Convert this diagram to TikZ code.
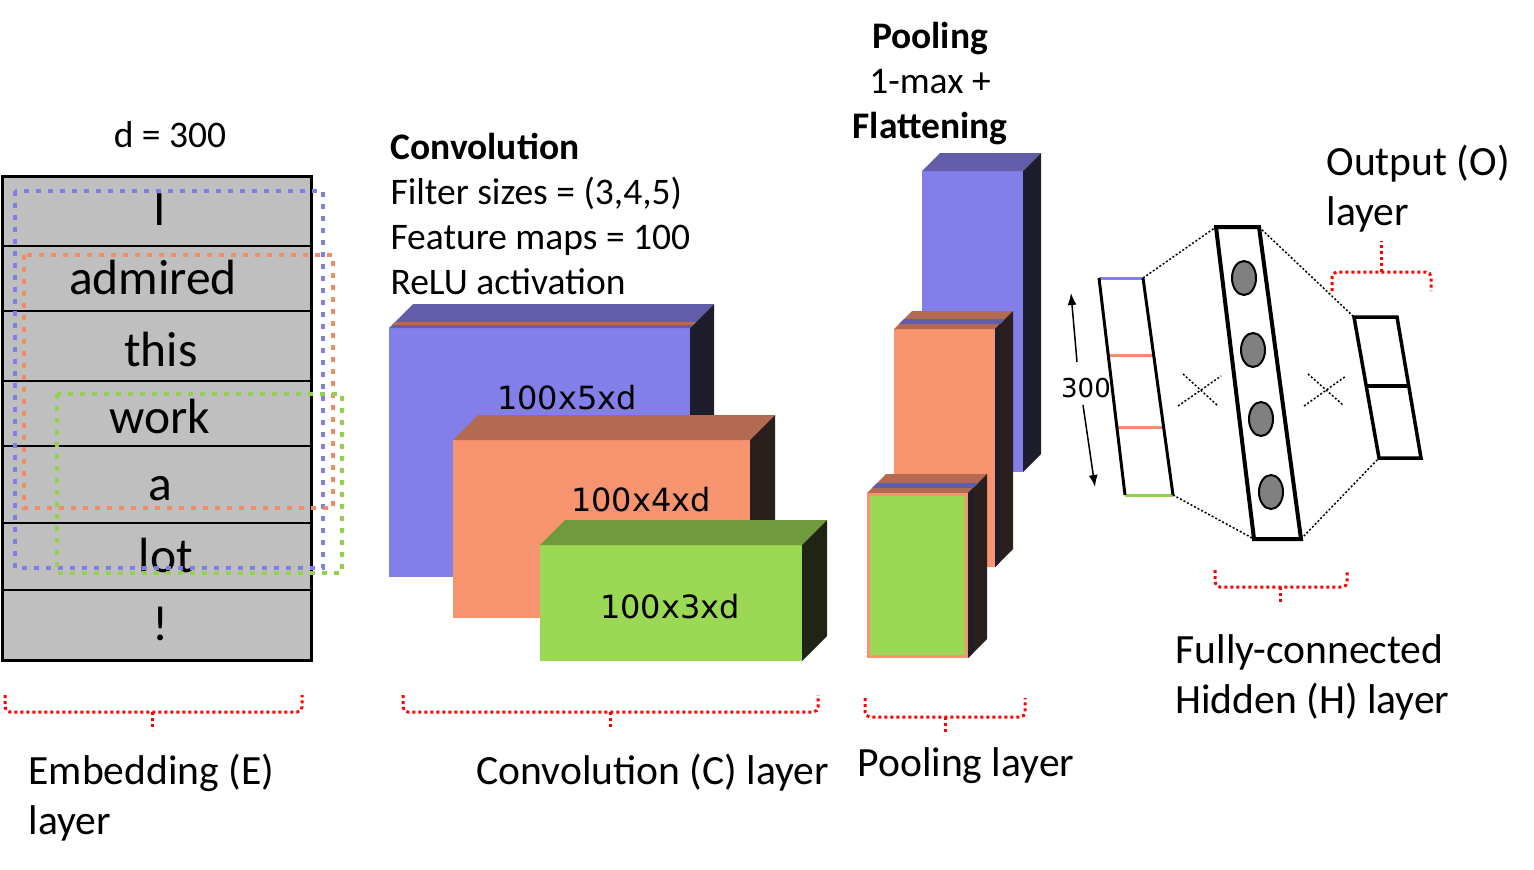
\documentclass[tikz,border=0pt]{standalone}
\usepackage{fontspec}
\setmainfont{Carlito}
\newfontfamily\dejavu{DejaVu Sans}
\usetikzlibrary{arrows.meta,calc}
\definecolor{cblue}{HTML}{837FE8}
\definecolor{cbluetop}{HTML}{615DA8}
\definecolor{cblueside}{HTML}{1E1D2B}
\definecolor{corange}{HTML}{F79470}
\definecolor{corangetop}{HTML}{B46A50}
\definecolor{corangeside}{HTML}{2A1F1C}
\definecolor{cgreen}{HTML}{9BD955}
\definecolor{cgreentop}{HTML}{6F9B3D}
\definecolor{cgreenside}{HTML}{1F2415}
\definecolor{dblue}{HTML}{7F7FE6}
\definecolor{dorange}{HTML}{F08C68}
\definecolor{dgreen}{HTML}{92D050}
\definecolor{cgray}{HTML}{BFBFBF}
\definecolor{cball}{HTML}{808080}
\newcommand\drawcuboid[8]{%
 \fill[#6] (#1,#2) rectangle (#3,#4);
 \fill[#7] (#1,#2) -- ({#1+#5},{#2-#5}) -- ({#3+#5},{#2-#5}) -- (#3,#2) -- cycle;
 \fill[#8] (#3,#2) -- ({#3+#5},{#2-#5}) -- ({#3+#5},{#4-#5}) -- (#3,#4) -- cycle;}
% band on top face between offsets a and b
\newcommand\topband[6]{%
 \fill[#6] ({#1+#4},{#2-#4}) -- ({#3+#4},{#2-#4}) -- ({#3+#5},{#2-#5}) -- ({#1+#5},{#2-#5}) -- cycle;}
\begin{document}
\begin{tikzpicture}[x=1pt,y=-1pt,
  lab/.style={font=\fontsize{41.6}{50}\selectfont},
  info/.style={font=\fontsize{37.5}{45}\selectfont},
  infob/.style={font=\fontsize{37.5}{45}\selectfont\bfseries},
  word/.style={font=\fontsize{49.5}{58}\selectfont, anchor=base},
  dim/.style={font=\dejavu\fontsize{32}{38}\selectfont, anchor=base},
  rowline/.style={line width=2.5pt},
  window/.style={line width=4.5pt, dash pattern=on 5pt off 7pt},
  brace/.style={red, line width=3pt, dash pattern=on 3pt off 3pt, rounded corners=5pt},
  vec/.style={line width=3pt},
  conn/.style={line width=1.5pt, dash pattern=on 2pt off 2pt}
]
\useasboundingbox (0,0) rectangle (1534,870);

% ---------- Embedding layer ----------
\fill[cgray] (2,176) rectangle (311,660);
\foreach \yy in {246,311,381,446,523,590} \draw[rowline] (2,\yy) -- (311,\yy);
\draw[line width=3pt] (2,176) rectangle (311,660);
\node[word] (w1) at (160,225) {I};
\node[word] (w2) at (153,294) {admired};
\node[word] (w3) at (161,366) {this};
\node[word] (w4) at (160,433) {work};
\node[word] (w5) at (160,500) {a};
\node[word] (w6) at (166,572) {lot};
\node[word] (w7) at (161,640) {!};
\node[info, anchor=base] (dlab) at (170,147) {d = 300};

\draw[window, dblue] (15,191) rectangle (323,568);
\draw[window, dorange] (24,255) rectangle (333,508);
\draw[window, dgreen] (57,394) rectangle (342,573);

% ---------- Convolution layer ----------
\drawcuboid{389}{328}{690}{577}{24}{cblue}{cbluetop}{cblueside}
\topband{389}{328}{690}{3}{6}{corangetop}
\drawcuboid{453}{440}{750}{618}{25}{corange}{corangetop}{corangeside}
\drawcuboid{540}{545}{802}{661}{25}{cgreen}{cgreentop}{cgreenside}
\node[dim] (c5) at (567,409) {100x5xd};
\node[dim] (c4) at (641,511) {100x4xd};
\node[dim] (c3) at (670,618) {100x3xd};

\node[infob, anchor=base west] (ct1) at (387,159) {Convolution};
\node[info, anchor=base west] (ct2) at (387,204) {Filter sizes = (3,4,5)};
\node[info, anchor=base west] (ct3) at (387,249) {Feature maps = 100};
\node[info, anchor=base west] (ct4) at (387,294) {ReLU activation};

% ---------- Pooling layer ----------
\drawcuboid{922}{171}{1023}{472}{18}{cblue}{cbluetop}{cblueside}
\drawcuboid{894}{329}{995}{567}{18}{corange}{corangetop}{corangeside}
\topband{894}{329}{995}{5}{10}{cbluetop}
\fill[cblueside] (995,329) -- (1000,324) -- (1000,562) -- (995,567) -- cycle;
\drawcuboid{867}{493}{968}{658}{19}{cgreen}{corangetop}{corangeside}
\topband{867}{493}{968}{5}{10}{cbluetop}
\fill[cblueside] (968,493) -- (973,488) -- (973,653) -- (968,658) -- cycle;
\draw[corange, line width=3pt] (868.5,494.5) rectangle (966.5,656.5);

\node[infob, anchor=base] (pt1) at (930,48) {Pooling};
\node[info, anchor=base] (pt2) at (930,93) {1-max +};
\node[infob, anchor=base] (pt3) at (930,138) {Flattening};

% ---------- Fully connected ----------
\coordinate (v1) at (1099,278);
\coordinate (v2) at (1143,278);
\coordinate (v3) at (1173,495);
\coordinate (v4) at (1125,495);
\coordinate (h1) at (1216,227);
\coordinate (h2) at (1259,227);
\coordinate (h3) at (1301,539);
\coordinate (h4) at (1254,539);
\coordinate (o1) at (1354,317);
\coordinate (o2) at (1397,317);
\coordinate (o3) at (1421,458);
\coordinate (o4) at (1379,458);

\draw[conn] (v2) -- (h1);
\draw[conn] (v3) -- (h4);
\draw[conn] (h2) -- (o1);
\draw[conn] (h3) -- (o4);

\draw[vec, draw=cblue] (v1) -- (v2);
\draw[vec, draw=dgreen] (v4) -- (v3);
\draw[vec, draw=dorange] ($(v1)!0.359!(v4)$) -- ($(v2)!0.359!(v3)$);
\draw[vec, draw=dorange] ($(v1)!0.691!(v4)$) -- ($(v2)!0.691!(v3)$);
\draw[vec] (v1) -- (v4);
\draw[vec] (v2) -- (v3);

\draw[line width=4pt, line join=miter] (h1) -- (h2) -- (h3) -- (h4) -- cycle;
\foreach \p in {(1244,278), (1253,350), (1261,419), (1271,492)}
  \draw[draw=black, line width=2pt, fill=cball] \p ellipse [x radius=12, y radius=17];

\draw[line width=3.5pt, line join=miter] (o1) -- (o2) -- (o3) -- (o4) -- cycle;
\draw[line width=3.5pt] ($(o1)!0.49!(o4)$) -- ($(o2)!0.49!(o3)$);

\coordinate (a1) at (1077,362); \coordinate (a2) at (1071,293);
\coordinate (a3) at (1083,405); \coordinate (a4) at (1095,487);
\draw[line width=1.5pt, -{Latex[length=12pt,width=9pt]}] (a1) -- (a2);
\draw[line width=1.5pt, -{Latex[length=12pt,width=9pt]}] (a3) -- (a4);
\node[font=\dejavu\fontsize{26}{30}\selectfont] (n300) at (1086,388) {300};

\coordinate (x1) at (1183,374); \coordinate (x2) at (1217,405);
\coordinate (x3) at (1178,406); \coordinate (x4) at (1221,376);
\coordinate (x5) at (1308,374); \coordinate (x6) at (1343,405);
\coordinate (x7) at (1304,406); \coordinate (x8) at (1346,376);
\draw[conn] (x1) -- (x2); \draw[conn] (x3) -- (x4);
\draw[conn] (x5) -- (x6); \draw[conn] (x7) -- (x8);

\node[lab, anchor=base west] (ol1) at (1323,175) {Output (O)};
\node[lab, anchor=base west] (ol2) at (1323,225) {layer};
\node[lab, anchor=base west] (hl1) at (1172,663) {Fully-connected};
\node[lab, anchor=base west] (hl2) at (1172,713) {Hidden (H) layer};

% ---------- braces ----------
\draw[brace] (1332,291) -- (1332,272) -- (1431,272) -- (1431,291);
\draw[brace] (1381,272) -- (1381,241);
\draw[brace] (1215,570) -- (1215,587) -- (1347,587) -- (1347,570);
\draw[brace] (1280,587) -- (1280,605);
\draw[brace] (5,695) -- (5,712) -- (302,712) -- (302,695);
\draw[brace] (152,712) -- (152,730);
\draw[brace] (403,695) -- (403,712) -- (818,712) -- (818,695);
\draw[brace] (610,712) -- (610,730);
\draw[brace] (865,698) -- (865,717) -- (1025,717) -- (1025,698);
\draw[brace] (945,717) -- (945,735);

% ---------- bottom labels ----------
\node[lab, anchor=base west] (el1) at (25,784) {Embedding (E)};
\node[lab, anchor=base west] (el2) at (25,834) {layer};
\node[lab, anchor=base west] (cl) at (473,784) {Convolution (C) layer};
\node[lab, anchor=base west] (pl) at (854,776) {Pooling layer};
\end{tikzpicture}
\end{document}
